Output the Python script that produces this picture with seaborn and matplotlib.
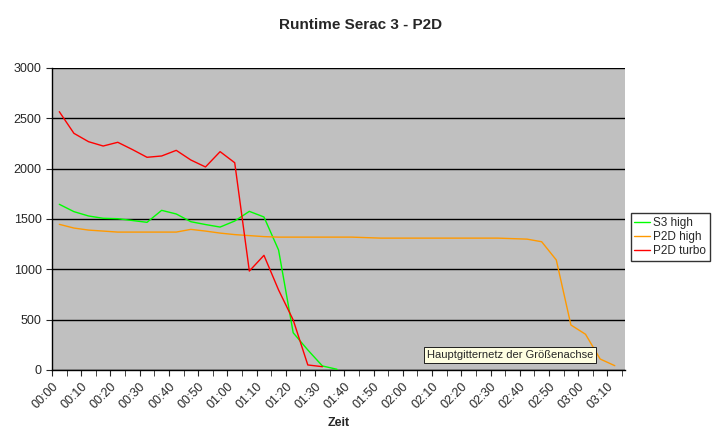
import numpy as np
import pandas as pd
import matplotlib
matplotlib.use("Agg")
import matplotlib.pyplot as plt
import seaborn as sns

# minutes since start, sampled every 5 min
s3_high = [1646, 1573, 1530, 1507, 1503, 1485, 1467, 1586, 1550, 1473, 1445, 1420,
           1480, 1576, 1520, 1192, 370, 199, 40, 7]
p2d_turbo = [2566, 2351, 2268, 2225, 2262, 2190, 2113, 2126, 2182, 2086, 2017, 2169,
             2059, 983, 1139, 795, 497, 50, 33]
p2d_high = [1447, 1410, 1390, 1380, 1370, 1370, 1370, 1370, 1370, 1397, 1380, 1360,
            1345, 1335, 1325, 1320, 1320, 1320, 1320, 1320, 1320, 1315, 1310, 1310,
            1310, 1310, 1310, 1310, 1310, 1310, 1310, 1305, 1300, 1274, 1093, 447,
            355, 109, 43]
tick_labels = ["%02d:%02d" % divmod(m, 60) for m in range(0, 200, 10)]

def minutes(vals):
    return [2.5 + 5 * i for i in range(len(vals))]

df = pd.concat([
    pd.DataFrame({"t": minutes(s3_high), "v": s3_high, "series": "S3 high"}),
    pd.DataFrame({"t": minutes(p2d_high), "v": p2d_high, "series": "P2D high"}),
    pd.DataFrame({"t": minutes(p2d_turbo), "v": p2d_turbo, "series": "P2D turbo"}),
])

sns.set_style("white")
plt.rcParams["font.family"] = ["Liberation Sans", "DejaVu Sans"]

fig = plt.figure(figsize=(7.22, 4.48), dpi=100)
ax = fig.add_axes([52 / 722, 1 - 370 / 448, 573 / 722, 302 / 448])
ax.set_facecolor("#C0C0C0")
palette = {"S3 high": "#00FF00", "P2D high": "#FF9900", "P2D turbo": "#FF0000"}
sns.lineplot(data=df, x="t", y="v", hue="series", palette=palette, ax=ax,
             linewidth=1, sort=False, zorder=3)

ax.set_xlim(0, 196)
ax.set_ylim(0, 3000)
ax.set_yticks(range(0, 3001, 500))
ax.set_xticks(range(0, 196, 5), minor=True)
ax.set_xticks(range(0, 191, 10))
ax.set_xticklabels(tick_labels, rotation=45, ha="right", rotation_mode="anchor")
ax.grid(axis="y", color="black", linewidth=1)
ax.set_axisbelow(True)
ax.tick_params(axis="x", which="both", length=4, direction="out", bottom=True, labelsize=9)
ax.tick_params(axis="y", length=4, direction="out", left=True, labelsize=9)
for side in ["top", "right"]:
    ax.spines[side].set_visible(False)
for side in ["left", "bottom"]:
    ax.spines[side].set_color("black")
    ax.spines[side].set_linewidth(1)

ax.set_xlabel("Zeit", fontweight="bold", fontsize=9)
ax.set_ylabel("")
fig.suptitle("Runtime Serac 3 - P2D", fontweight="bold", fontsize=11, y=0.96)

leg = ax.legend(loc="center left", bbox_to_anchor=(1.01, 0.44), frameon=True,
                fancybox=False, fontsize=8.5, handlelength=1.3, handletextpad=0.3,
                borderpad=0.3, borderaxespad=0, labelspacing=0.2)
leg.get_frame().set_edgecolor("black")
leg.get_frame().set_linewidth(1)

ax.text(0.654, 0.04, "Hauptgitternetz der Größenachse", transform=ax.transAxes,
        fontsize=8, bbox=dict(facecolor="#FFFFE1", edgecolor="black", linewidth=0.6,
                              boxstyle="square,pad=0.25"), zorder=5)

fig.savefig("out.png", dpi=100)
